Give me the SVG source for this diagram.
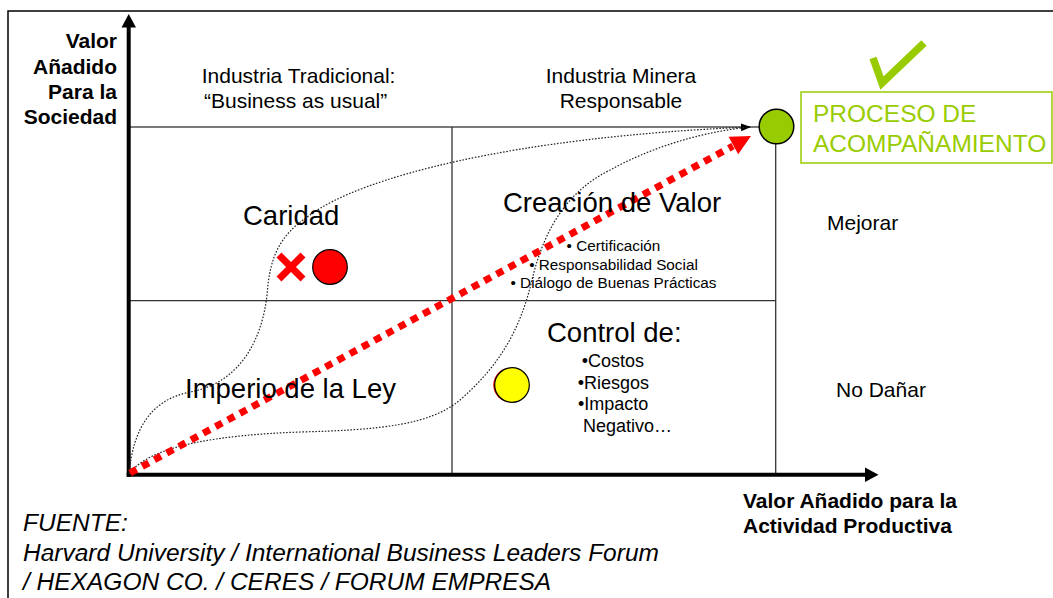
<svg xmlns="http://www.w3.org/2000/svg" width="1053" height="598" viewBox="0 0 1053 598">
<style>
text{font-family:"Liberation Sans",Arial,sans-serif;fill:#000}
.ax{font-weight:bold;font-size:21px}
.lbl{font-size:21px}
.big{font-size:27.5px}
.sm{font-size:15.3px}
.md{font-size:18px}
.src{font-size:24.5px;font-style:italic}
.grn{font-size:24.5px;fill:#99cc00}
.grid{stroke:#333;stroke-width:1.3;fill:none}
.dot{stroke:#222;stroke-width:1.2;fill:none;stroke-dasharray:1.6 1.6}
</style>
<defs>
<marker id="blk" markerUnits="userSpaceOnUse" markerWidth="10" markerHeight="10" refX="9" refY="4" orient="auto" viewBox="0 0 10 8">
<path d="M0,0 L10,4 L0,8 Z" fill="#000"/>
</marker>
</defs>
<rect width="1053" height="598" fill="#fff"/>
<g id="frame">
<path d="M8,598 L8,11 L1053,11" stroke="#000" stroke-width="1.5" fill="none"/>
</g>
<g id="matrix">
<rect x="129" y="127" width="646.7" height="347.7" fill="#bae0e3" class="grid"/>
<line x1="452" y1="127" x2="452" y2="474.7" class="grid"/>
<line x1="129" y1="300.7" x2="775.7" y2="300.7" class="grid"/>
</g>
<g id="axes">
<line x1="128.7" y1="476.7" x2="128.7" y2="26" stroke="#000" stroke-width="4"/>
<polygon points="128.7,14 121.5,27.5 136,27.5" fill="#000"/>
<line x1="126.7" y1="474.7" x2="866" y2="474.7" stroke="#000" stroke-width="4"/>
<polygon points="878.5,474.7 865,467.5 865,482" fill="#000"/>
</g>
<g id="axis-y-label">
<text class="ax" x="117" y="48.3" text-anchor="end">Valor</text>
<text class="ax" x="117" y="74" text-anchor="end">Añadido</text>
<text class="ax" x="117" y="99.3" text-anchor="end">Para la</text>
<text class="ax" x="117" y="124.3" text-anchor="end">Sociedad</text>
</g>
<g id="axis-x-label">
<text class="ax" x="743" y="507.7">Valor Añadido para la</text>
<text class="ax" x="743" y="533">Actividad Productiva</text>
</g>
<g id="industria-tradicional">
<text class="lbl" x="201.7" y="82.7">Industria Tradicional:</text>
<text class="lbl" x="204" y="108.3">“Business as usual”</text>
</g>
<g id="industria-minera">
<text class="lbl" x="621" y="82.7" text-anchor="middle">Industria Minera</text>
<text class="lbl" x="621" y="108.3" text-anchor="middle">Responsable</text>
</g>
<g id="mejorar"><text class="lbl" x="827" y="230">Mejorar</text></g>
<g id="no-danar"><text class="lbl" x="836" y="397">No Dañar</text></g>
<g id="connectors">
<path class="dot" d="M129,474 C133,430 150,400 190,392 C240,383 262,340 267,295 C270,255 280,235 310,215 C360,178 510,137 750,127" marker-end="url(#blk)"/>
<path class="dot" d="M129,474 C150,445 220,435 300,432 C380,430 430,425 460,400 C500,365 520,330 532,280 C545,225 570,190 610,170 C650,148 700,132 750,127"/>
<path d="M130,473 L733,146" stroke="#ff0000" stroke-width="7" stroke-dasharray="7.5 6.4" fill="none"/>
<polygon points="751,136 738.2,154.3 728.6,136.7" fill="#ff0000"/>
</g>
<g id="caridad">
<text class="big" x="243" y="225">Caridad</text>
<path d="M279,255 L303,279 M303,255 L279,279" stroke="#ff0000" stroke-width="7"/>
<circle cx="330" cy="267" r="17.3" fill="#ff0000" stroke="#000" stroke-width="1.2"/>
</g>
<g id="imperio-ley">
<text class="big" x="185" y="398.3">Imperio de la Ley</text>
</g>
<g id="creacion-valor">
<text class="big" x="503" y="212">Creación de Valor</text>
<text class="sm" x="613.5" y="250.7" text-anchor="middle">• Certificación</text>
<text class="sm" x="613.5" y="270" text-anchor="middle">• Responsabilidad Social</text>
<text class="sm" x="613.5" y="287.7" text-anchor="middle">• Diálogo de Buenas Prácticas</text>
</g>
<g id="control">
<text class="big" x="547" y="342">Control de:</text>
<text class="md" x="581.7" y="366.7">•Costos</text>
<text class="md" x="577.7" y="388.5">•Riesgos</text>
<text class="md" x="578" y="410.3">•Impacto</text>
<text class="md" x="583" y="432.3">Negativo…</text>
<circle cx="510.5" cy="385" r="17.3" fill="#ff0000"/>
<circle cx="512" cy="385" r="17.3" fill="#ffff00" stroke="#000" stroke-width="1.2"/>
</g>
<g id="meta">
<circle cx="776.5" cy="126.5" r="17.3" fill="#99cc00" stroke="#000" stroke-width="1.5"/>
</g>
<g id="proceso">
<path d="M873,58 L882,83 L924,43" stroke="#99cc00" stroke-width="7.5" fill="none"/>
<rect x="801" y="92" width="251" height="71" fill="none" stroke="#99cc00" stroke-width="1.5"/>
<text class="grn" x="813" y="122.3">PROCESO DE</text>
<text class="grn" x="813" y="151.7">ACOMPAÑAMIENTO</text>
</g>
<g id="fuente">
<text class="src" x="23" y="531">FUENTE:</text>
<text class="src" x="23" y="561">Harvard University / International Business Leaders Forum</text>
<text class="src" x="23" y="590">/ HEXAGON CO. / CERES / FORUM EMPRESA</text>
</g>
</svg>
